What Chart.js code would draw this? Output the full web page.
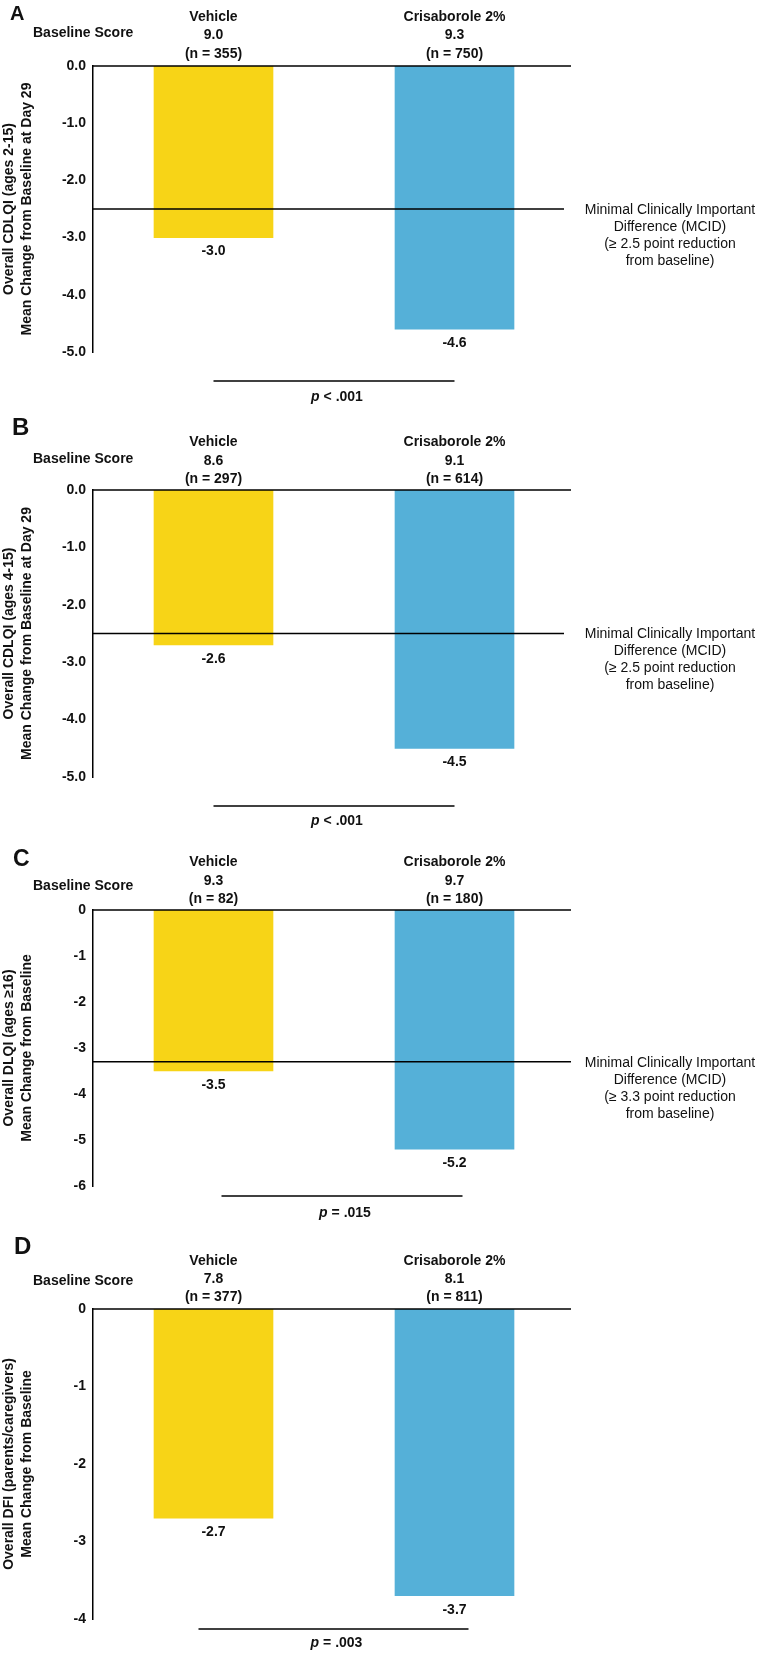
<!DOCTYPE html>
<html>
<head>
<meta charset="utf-8">
<script src="https://cdn.jsdelivr.net/npm/chart.js@4"></script>
<style>
  html, body { margin: 0; padding: 0; background: #fff; }
  #page { position: relative; width: 759px; height: 1654px; }
  .panel { position: absolute; left: 0; width: 759px; }
</style>
</head>
<body>
<div id="page"></div>
<script>
// Dati
const groups = ['Vehicle', 'Crisaborole 2%'];
const panelLetters = ['A', 'B', 'C', 'D'];
const baselineScores = [['9.0', '9.3'], ['8.6', '9.1'], ['9.3', '9.7'], ['7.8', '8.1']];
const sampleSizes = [[355, 750], [297, 614], [82, 180], [377, 811]];
const changeA = [-3.0, -4.6];
const changeB = [-2.7, -4.5];
const changeC = [-3.5, -5.2];
const changeD = [-2.7, -3.7];
const valueLabels = [['-3.0', '-4.6'], ['-2.6', '-4.5'], ['-3.5', '-5.2'], ['-2.7', '-3.7']];
const mcidValues = [-2.5, -2.5, -3.3, null];
const mcidNotes = ['2.5', '2.5', '3.3', null];
const pValues = ['< .001', '< .001', '= .015', '= .003'];
const axisTitles = [
    ['Overall CDLQI (ages 2-15)', 'Mean Change from Baseline at Day 29'],
    ['Overall CDLQI (ages 4-15)', 'Mean Change from Baseline at Day 29'],
    ['Overall DLQI (ages \u226516)', 'Mean Change from Baseline'],
    ['Overall DFI (parents/caregivers)', 'Mean Change from Baseline']
];
const yMins = [-5, -5, -6, -4];
const tickDecimals = [1, 1, 0, 0];
const changes = [changeA, changeB, changeC, changeD];

const barColors = ['#F7D417', '#55B0D8'];
const FONT = '"Liberation Sans", Arial, sans-serif';
const INK = '#111';

// Impaginazione (pixel) di ogni pannello
const layouts = [
    { top: 0,    height: 410, padTop: 66, padBottom: 58, letter: [10, -52, 20], baselineDy: -33, headDy: [-49, -31, -12], mcidEnd: 564, bracketDy: 29, bracketOff: [0, 0], pDy: 16 },
    { top: 410,  height: 420, padTop: 80, padBottom: 53, letter: [12, -62, 24], baselineDy: -31, headDy: [-48, -29, -11], mcidEnd: 564, bracketDy: 29, bracketOff: [0, 0], pDy: 15 },
    { top: 830,  height: 395, padTop: 80, padBottom: 39, letter: [13, -50, 23], baselineDy: -24, headDy: [-48, -29, -11], mcidEnd: 571, bracketDy: 10, bracketOff: [8, 8], pDy: 17 },
    { top: 1225, height: 429, padTop: 84, padBottom: 35, letter: [14, -62, 24], baselineDy: -28, headDy: [-48, -30, -12], mcidEnd: 571, bracketDy: 10, bracketOff: [-15, 14], pDy: 14 }
];
const ZERO_END = 571;
const AXIS_X = 93;
const AREA_RIGHT = 575;

function hline(ctx, x1, x2, y) {
    ctx.beginPath();
    ctx.moveTo(x1, y);
    ctx.lineTo(x2, y);
    ctx.stroke();
}

// Disegna intestazioni, linea MCID, parentesi e p-value
const annotatePlugin = {
    id: 'annotate',
    afterDraw(chart, args, opts) {
        const i = opts.index;
        const L = layouts[i];
        const { ctx, chartArea } = chart;
        const yScale = chart.scales.y;
        const bars = chart.getDatasetMeta(0).data;
        const zeroY = yScale.getPixelForValue(0);
        const minY = yScale.getPixelForValue(yMins[i]);

        ctx.save();
        ctx.strokeStyle = '#000';
        ctx.lineWidth = 1.5;
        hline(ctx, chartArea.left, ZERO_END, zeroY);

        ctx.fillStyle = INK;
        ctx.textBaseline = 'middle';

        // lettera del pannello
        ctx.textAlign = 'left';
        ctx.font = 'bold ' + L.letter[2] + 'px ' + FONT;
        ctx.fillText(panelLetters[i], L.letter[0], zeroY + L.letter[1]);

        ctx.font = 'bold 14px ' + FONT;
        ctx.fillText('Baseline Score', 33, zeroY + L.baselineDy);

        ctx.textAlign = 'center';
        bars.forEach((bar, j) => {
            const lines = [groups[j], baselineScores[i][j], '(n = ' + sampleSizes[i][j] + ')'];
            lines.forEach((t, k) => ctx.fillText(t, bar.x, zeroY + L.headDy[k]));
            ctx.fillText(valueLabels[i][j], bar.x, bar.y + 14);
        });

        // MCID
        if (mcidValues[i] !== null) {
            const my = yScale.getPixelForValue(mcidValues[i]);
            hline(ctx, chartArea.left, L.mcidEnd, my);
            ctx.font = '14px ' + FONT;
            const note = ['Minimal Clinically Important', 'Difference (MCID)',
                '(\u2265 ' + mcidNotes[i] + ' point reduction', 'from baseline)'];
            note.forEach((t, k) => ctx.fillText(t, 670, my + 1 + k * 17));
        }

        // parentesi della significativita
        const bx1 = bars[0].x + L.bracketOff[0];
        const bx2 = bars[1].x + L.bracketOff[1];
        const by = minY + L.bracketDy;
        hline(ctx, bx1, bx2, by);
        const pFont = 'bold italic 14px ' + FONT;
        const rFont = 'bold 14px ' + FONT;
        ctx.font = pFont;
        const wP = ctx.measureText('p').width;
        ctx.font = rFont;
        const rest = ' ' + pValues[i];
        const wR = ctx.measureText(rest).width;
        const startX = (bx1 + bx2) / 2 + 3 - (wP + wR) / 2;
        ctx.textAlign = 'left';
        ctx.font = pFont;
        ctx.fillText('p', startX, by + L.pDy);
        ctx.font = rFont;
        ctx.fillText(rest, startX + wP, by + L.pDy);
        ctx.restore();
    }
};

const page = document.getElementById('page');
layouts.forEach((L, i) => {
    const div = document.createElement('div');
    div.className = 'panel';
    div.style.top = L.top + 'px';
    div.style.height = L.height + 'px';
    const canvas = document.createElement('canvas');
    div.appendChild(canvas);
    page.appendChild(div);

    new Chart(canvas, {
        type: 'bar',
        data: {
            labels: groups,
            datasets: [{
                data: changes[i],
                backgroundColor: barColors,
                borderWidth: 0,
                barThickness: 119
            }]
        },
        options: {
            responsive: true,
            maintainAspectRatio: false,
            animation: false,
            layout: { padding: { left: 0, right: 759 - AREA_RIGHT, top: L.padTop, bottom: L.padBottom } },
            plugins: {
                legend: { display: false },
                tooltip: { enabled: false },
                annotate: { index: i }
            },
            scales: {
                x: { display: false },
                y: {
                    min: yMins[i],
                    max: 0,
                    afterFit: scale => { scale.width = AXIS_X; },
                    grid: { display: false, drawTicks: false },
                    border: { display: true, color: '#000', width: 1.5 },
                    ticks: {
                        stepSize: 1,
                        padding: 7,
                        color: INK,
                        font: { family: FONT, size: 14, weight: 'bold' },
                        callback: v => v.toFixed(tickDecimals[i])
                    },
                    title: {
                        display: true,
                        text: axisTitles[i],
                        color: INK,
                        padding: 0,
                        font: { family: FONT, size: 14, weight: 'bold', lineHeight: 18 / 14 }
                    }
                }
            }
        },
        plugins: [annotatePlugin]
    });
});
</script>
</body>
</html>
